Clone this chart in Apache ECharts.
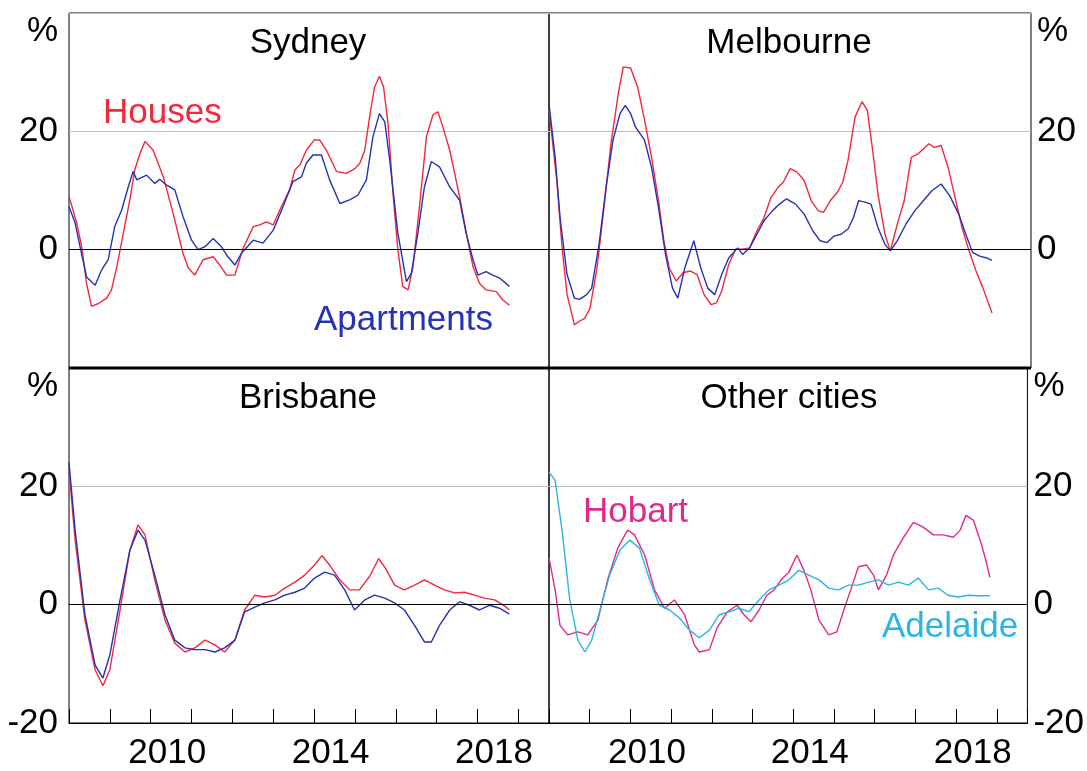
<!DOCTYPE html>
<html>
<head>
<meta charset="utf-8">
<script src="https://cdn.jsdelivr.net/npm/echarts@6/dist/echarts.min.js"></script>
<style>
html,body{margin:0;padding:0;background:#fff;}
#chart{width:1087px;height:771px;}
</style>
</head>
<body>
<div id="chart"></div>
<script>
// ---------- DATA (year, % change) ----------
const panelTitles = ['Sydney', 'Melbourne', 'Brisbane', 'Other cities'];
const xLabelYears = [2010, 2014, 2018];
const yTicks = [-20, 0, 20, 40];

const sydneyHouses = [
[2008.0,9.0],[2008.19,4.5],[2008.31,0.5],[2008.43,-5.7],[2008.55,-9.6],[2008.72,-9.1],[2008.92,-8.2],[2009.04,-6.8],[2009.17,-2.9],[2009.33,2.8],[2009.49,8.4],[2009.61,13.5],[2009.74,16.3],[2009.86,18.3],[2010.06,16.8],[2010.31,12.3],[2010.55,6.1],[2010.79,-0.6],[2010.92,-3.1],[2011.08,-4.3],[2011.28,-1.7],[2011.53,-1.2],[2011.69,-2.6],[2011.86,-4.3],[2012.06,-4.3],[2012.26,0.2],[2012.51,3.9],[2012.67,4.2],[2012.83,4.7],[2013.0,4.2],[2013.16,6.7],[2013.40,10.1],[2013.53,13.5],[2013.65,14.3],[2013.81,16.8],[2014.01,18.6],[2014.14,18.5],[2014.30,16.8],[2014.55,13.2],[2014.79,12.9],[2015.0,13.7],[2015.12,14.6],[2015.24,16.8],[2015.36,22.5],[2015.48,27.5],[2015.60,29.3],[2015.70,27.5],[2015.81,21.3],[2015.93,9.6],[2016.05,0],[2016.17,-6.2],[2016.30,-6.8],[2016.42,-2.9],[2016.58,7.3],[2016.75,19.1],[2016.91,22.8],[2017.03,23.3],[2017.15,20.8],[2017.32,16.8],[2017.56,9.0],[2017.76,1.6],[2017.89,-2.9],[2018.05,-5.7],[2018.21,-6.8],[2018.46,-7.1],[2018.62,-8.5],[2018.78,-9.4]
];
const sydneyApartments = [
[2008.0,7.3],[2008.15,4.5],[2008.27,0.5],[2008.43,-4.6],[2008.64,-6.0],[2008.80,-3.4],[2008.96,-1.7],[2009.12,3.9],[2009.29,6.7],[2009.45,10.6],[2009.57,13.2],[2009.66,11.8],[2009.90,12.6],[2010.10,11.2],[2010.22,11.9],[2010.39,10.9],[2010.59,10.1],[2010.79,5.6],[2011.0,1.6],[2011.16,0],[2011.33,0.5],[2011.53,1.9],[2011.73,0.5],[2011.89,-1.2],[2012.06,-2.6],[2012.22,-0.6],[2012.51,1.6],[2012.75,1.1],[2013.0,3.3],[2013.24,7.3],[2013.48,11.5],[2013.69,12.3],[2013.81,14.6],[2013.97,16],[2014.18,16],[2014.38,11.8],[2014.63,7.8],[2014.87,8.4],[2015.07,9.2],[2015.28,11.8],[2015.44,19.1],[2015.60,23],[2015.73,21.6],[2015.85,15.2],[2016.05,2.8],[2016.26,-5.4],[2016.38,-4],[2016.54,2.8],[2016.70,10.6],[2016.87,14.9],[2017.07,14],[2017.32,10.6],[2017.56,8.4],[2017.72,2.8],[2017.89,-1.7],[2018.01,-4.3],[2018.21,-3.7],[2018.37,-4.3],[2018.54,-4.8],[2018.78,-6.2]
];
const melbourneHouses = [
[2008.0,23.6],[2008.19,11.7],[2008.32,0.3],[2008.44,-7.6],[2008.62,-12.7],[2008.74,-12.1],[2008.87,-11.6],[2009.0,-9.9],[2009.17,-3.1],[2009.34,7.1],[2009.51,17.9],[2009.69,26.4],[2009.81,30.9],[2009.99,30.7],[2010.16,27.5],[2010.33,21.9],[2010.50,15.6],[2010.67,8.3],[2010.80,1.5],[2010.93,-3.1],[2011.10,-5.3],[2011.27,-3.9],[2011.44,-3.6],[2011.61,-4.2],[2011.78,-7.6],[2011.95,-9.3],[2012.08,-9.0],[2012.21,-7.0],[2012.38,-2.5],[2012.55,0.1],[2012.72,0.1],[2012.89,0.3],[2013.07,3.2],[2013.24,5.4],[2013.41,8.8],[2013.58,10.5],[2013.71,11.4],[2013.88,13.7],[2014.05,13.1],[2014.22,11.7],[2014.39,8.3],[2014.56,6.6],[2014.69,6.3],[2014.86,8.3],[2015.03,9.7],[2015.16,11.4],[2015.29,15.1],[2015.46,22.4],[2015.63,25.0],[2015.76,23.6],[2015.89,16.8],[2016.02,9.4],[2016.19,2.6],[2016.32,-0.2],[2016.49,4.3],[2016.66,8.3],[2016.83,15.6],[2017.0,16.2],[2017.17,17.3],[2017.26,17.9],[2017.39,17.3],[2017.56,17.6],[2017.73,13.9],[2017.90,8.8],[2018.07,3.7],[2018.24,-0.2],[2018.41,-3.6],[2018.58,-6.5],[2018.80,-10.7]
];
const melbourneApartments = [
[2008.0,24.7],[2008.15,15.6],[2008.27,5.4],[2008.44,-4.2],[2008.62,-8.2],[2008.74,-8.4],[2008.92,-7.6],[2009.04,-6.5],[2009.22,0.9],[2009.39,10.5],[2009.56,18.5],[2009.73,23.0],[2009.86,24.4],[2009.99,23.0],[2010.11,20.7],[2010.33,18.5],[2010.50,13.9],[2010.67,7.1],[2010.84,-0.8],[2011.01,-6.5],[2011.14,-8.2],[2011.31,-3.1],[2011.53,1.5],[2011.70,-3.1],[2011.87,-6.5],[2012.04,-7.6],[2012.21,-4.2],[2012.38,-1.4],[2012.60,0.3],[2012.72,-0.8],[2012.89,0.3],[2013.07,2.6],[2013.24,4.9],[2013.45,6.6],[2013.62,7.7],[2013.79,8.6],[2014.01,7.7],[2014.22,6.0],[2014.43,3.2],[2014.61,1.5],[2014.78,1.2],[2014.95,2.3],[2015.12,2.6],[2015.29,3.5],[2015.42,5.4],[2015.55,8.3],[2015.72,8.0],[2015.85,7.7],[2016.02,3.7],[2016.19,0.9],[2016.32,-0.2],[2016.49,1.5],[2016.70,4.3],[2016.92,6.6],[2017.13,8.3],[2017.34,10.0],[2017.56,11.1],[2017.77,9.1],[2017.99,6.0],[2018.16,2.6],[2018.33,-0.5],[2018.50,-1.1],[2018.67,-1.4],[2018.80,-1.8]
];
const brisbaneHouses = [
[2008.0,22.7],[2008.15,10.9],[2008.39,-2.6],[2008.64,-11],[2008.83,-13.7],[2009.0,-11],[2009.25,-0.9],[2009.49,9.2],[2009.69,13.5],[2009.86,11.8],[2010.10,4.2],[2010.35,-2.6],[2010.59,-6.5],[2010.84,-8],[2011.08,-7.3],[2011.33,-6],[2011.57,-6.8],[2011.81,-8],[2012.06,-6],[2012.30,-0.9],[2012.55,1.6],[2012.79,1.3],[2013.04,1.6],[2013.28,2.8],[2013.53,3.8],[2013.77,5],[2014.01,6.7],[2014.19,8.3],[2014.38,6.7],[2014.63,4.2],[2014.87,2.5],[2015.11,2.5],[2015.36,4.8],[2015.58,7.8],[2015.76,6.0],[2015.97,3.3],[2016.21,2.5],[2016.46,3.3],[2016.70,4.2],[2016.95,3.3],[2017.19,2.5],[2017.44,2.0],[2017.68,2.1],[2017.93,1.6],[2018.17,1.1],[2018.42,0.8],[2018.66,-0.2],[2018.78,-0.9]
];
const brisbaneApartments = [
[2008.0,24],[2008.15,12.6],[2008.39,-1.7],[2008.64,-10.2],[2008.83,-12.4],[2009.0,-8.5],[2009.25,0.8],[2009.49,9.2],[2009.69,12.6],[2009.86,10.9],[2010.10,5],[2010.35,-1.7],[2010.59,-6],[2010.84,-7.3],[2011.08,-7.6],[2011.33,-7.6],[2011.57,-8],[2011.81,-7.3],[2012.06,-6],[2012.30,-1.2],[2012.55,-0.4],[2012.79,0.3],[2013.04,0.8],[2013.28,1.6],[2013.53,2.1],[2013.77,2.8],[2014.01,4.5],[2014.26,5.5],[2014.50,5.0],[2014.75,2.5],[2014.99,-0.9],[2015.24,0.8],[2015.48,1.6],[2015.73,1.1],[2015.97,0.3],[2016.21,-0.9],[2016.46,-3.5],[2016.70,-6.3],[2016.87,-6.3],[2017.07,-3.5],[2017.32,-0.9],[2017.56,0.5],[2017.80,-0.1],[2018.05,-0.9],[2018.29,-0.1],[2018.54,-0.6],[2018.78,-1.6]
];
const hobart = [
[2008.0,7.9],[2008.15,2.5],[2008.27,-3.5],[2008.46,-5.1],[2008.71,-4.6],[2008.95,-5.1],[2009.20,-2.6],[2009.44,4.2],[2009.69,9.6],[2009.93,12.6],[2010.10,11.8],[2010.35,8.4],[2010.59,2.5],[2010.84,-0.6],[2011.08,0.8],[2011.33,-1.7],[2011.57,-6.8],[2011.69,-8],[2011.94,-7.6],[2012.13,-3.9],[2012.38,-1.2],[2012.62,-0.1],[2012.79,-1.7],[2012.96,-2.9],[2013.16,-0.9],[2013.35,1.6],[2013.53,2.5],[2013.70,4.2],[2013.89,5.5],[2014.09,8.4],[2014.26,5.8],[2014.43,2.5],[2014.63,-2.6],[2014.87,-5.1],[2015.07,-4.6],[2015.24,-0.9],[2015.41,2.5],[2015.60,6.4],[2015.80,6.7],[2015.97,5],[2016.09,2.5],[2016.29,5],[2016.46,8.4],[2016.70,11.3],[2016.95,13.9],[2017.19,13.1],[2017.44,11.8],[2017.68,11.8],[2017.93,11.4],[2018.10,12.6],[2018.24,15.1],[2018.42,14.3],[2018.59,10.9],[2018.73,7.5],[2018.83,4.6]
];
const adelaide = [
[2008.0,22.4],[2008.15,21],[2008.32,12.6],[2008.51,0.8],[2008.71,-6],[2008.88,-8],[2009.05,-6],[2009.25,-0.9],[2009.49,5],[2009.74,9.2],[2009.98,10.9],[2010.22,9.6],[2010.47,4.2],[2010.71,-0.1],[2010.96,-0.9],[2011.20,-2.2],[2011.45,-4.3],[2011.69,-5.6],[2011.94,-4.3],[2012.18,-1.7],[2012.43,-1.2],[2012.67,-0.6],[2012.91,-1.2],[2013.16,0.8],[2013.40,2.5],[2013.65,3.3],[2013.89,4.2],[2014.14,5.8],[2014.38,5],[2014.63,4.2],[2014.87,2.8],[2015.11,2.5],[2015.36,3.3],[2015.60,3.3],[2015.85,3.8],[2016.09,4.2],[2016.34,3.3],[2016.58,3.8],[2016.83,3.3],[2017.07,4.5],[2017.32,2.5],[2017.56,2.8],[2017.80,1.6],[2018.05,1.3],[2018.29,1.6],[2018.54,1.5],[2018.83,1.5]
];

// ---------- STYLE ----------
const FONT = '"Liberation Sans", Arial, sans-serif';
const FS = 35;
const RED = '#f2283c', BLUE = '#2532b4', PINK = '#e2288c', CYAN = '#2ab4e6';

const grids = [
  {left: 69, top: 13, width: 480, height: 355},
  {left: 549, top: 13, width: 482, height: 355},
  {left: 69, top: 368, width: 480, height: 355},
  {left: 549, top: 368, width: 482, height: 355}
];

function yLabelFmt(isTop) {
  return function (v) {
    if (v === 40) return '{p|%}';
    if (v === -20) return isTop ? '' : '-20';
    return String(v);
  };
}

const xAxes = grids.map((g, i) => {
  const bottom = i >= 2;
  return {
    type: 'value', gridIndex: i, min: 2008, max: 2019.75, interval: 1,
    axisLine: {show: bottom, onZero: false, lineStyle: {color: '#000', width: 1}},
    axisTick: {show: bottom, inside: true, length: 14, lineStyle: {color: '#000', width: 1}},
    splitLine: {show: false},
    axisLabel: {
      show: bottom, margin: 13, color: '#000', fontSize: FS, fontFamily: FONT,
      formatter: v => xLabelYears.indexOf(v) >= 0 ? '{a|' + v + '}' : '',
      rich: {a: {fontSize: FS, fontFamily: FONT, color: '#000', padding: [0, 0, 0, 33]}}
    }
  };
});

const yAxes = grids.map((g, i) => {
  const right = (i % 2) === 1;
  const top = i < 2;
  return {
    type: 'value', gridIndex: i, min: yTicks[0], max: yTicks[yTicks.length - 1], interval: 20,
    position: right ? 'right' : 'left',
    axisLine: {show: false}, axisTick: {show: false},
    splitLine: {show: true, lineStyle: {color: '#bdbdbd', width: 1}},
    axisLabel: {
      color: '#000', fontSize: FS, fontFamily: FONT, margin: right ? 6 : 11,
      formatter: yLabelFmt(top),
      rich: {p: {fontSize: FS, fontFamily: FONT, color: '#000', padding: [36, 0, 0, 0]}}
    }
  };
});

function line(data, color, idx, withZero) {
  const s = {
    type: 'line', data: data, xAxisIndex: idx, yAxisIndex: idx,
    showSymbol: false, symbol: 'none', smooth: false,
    lineStyle: {color: color, width: 1.4}, itemStyle: {color: color},
    animation: false, silent: true, z: 3
  };
  if (withZero) {
    s.markLine = {
      silent: true, symbol: 'none', animation: false,
      label: {show: false},
      lineStyle: {color: '#000', width: 1.2, type: 'solid'},
      data: [{yAxis: 0}]
    };
  }
  return s;
}

const titleStyle = {fontSize: FS, fontFamily: FONT, fontWeight: 'normal', color: '#000'};
const titles = [
  {text: panelTitles[0], left: 308, top: 26},
  {text: panelTitles[1], left: 789, top: 26},
  {text: panelTitles[2], left: 308, top: 381},
  {text: panelTitles[3], left: 789, top: 381}
].map(t => ({text: t.text, left: t.left, top: t.top, textAlign: 'center', textStyle: titleStyle, padding: 0}));

function seriesLabel(text, x, y, color) {
  return {type: 'text', left: x, top: y, silent: true, z: 10,
    style: {text: text, fill: color, font: 'normal ' + FS + 'px ' + FONT}};
}

const option = {
  backgroundColor: '#fff',
  animation: false,
  title: titles,
  grid: grids.map(g => Object.assign({show: true, borderColor: '#000', borderWidth: 1, backgroundColor: 'transparent'}, g)),
  xAxis: xAxes,
  yAxis: yAxes,
  series: [
    line(sydneyHouses, RED, 0, true), line(sydneyApartments, BLUE, 0, false),
    line(melbourneHouses, RED, 1, true), line(melbourneApartments, BLUE, 1, false),
    line(brisbaneHouses, RED, 2, true), line(brisbaneApartments, BLUE, 2, false),
    line(hobart, PINK, 3, true), line(adelaide, CYAN, 3, false)
  ],
  graphic: [
    {type: 'line', shape: {x1: 69, y1: 368, x2: 1031, y2: 368}, style: {stroke: '#000', lineWidth: 3}, z: 20, silent: true},
    seriesLabel('Houses', 103, 96, RED),
    seriesLabel('Apartments', 314, 303, BLUE),
    seriesLabel('Hobart', 583, 495, PINK),
    seriesLabel('Adelaide', 882, 610, CYAN)
  ]
};

const chart = echarts.init(document.getElementById('chart'), null, {renderer: 'canvas'});
chart.setOption(option);
</script>
</body>
</html>
